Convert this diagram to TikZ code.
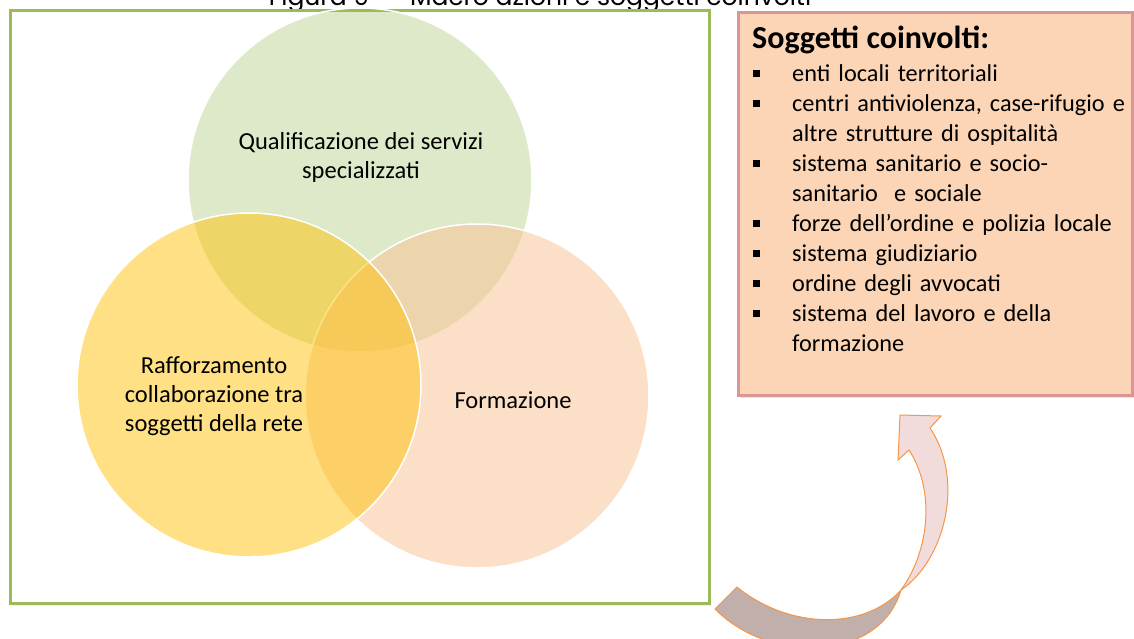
\documentclass[tikz,border=0pt]{standalone}
\usepackage{fontspec}
\setmainfont{Carlito}
\newfontfamily\captionfont{Poppins}
\usetikzlibrary{shadows}

\definecolor{frameGreen}{HTML}{9BBB59}
\definecolor{boxFill}{HTML}{FBD5B5}
\definecolor{boxLine}{HTML}{D99694}
\definecolor{arrowLine}{HTML}{F79646}
\definecolor{arrowBack}{HTML}{C1AFAC}
\definecolor{arrowFront}{HTML}{F2DCDB}

\newcommand{\voce}[1]{\hangindent=40pt\hangafter=1\noindent\makebox[40pt][l]{\hspace{1pt}\rule[4pt]{7pt}{7pt}}#1\par}

\begin{document}
\begin{tikzpicture}[x=1pt,y=-1pt,
  venn/.style={circle, minimum size=344pt, inner sep=0pt, draw=white, line width=1.5pt},
  venntext/.style={font=\fontsize{24.5}{29}\selectfont, align=center, anchor=base, inner sep=0pt},
  listtext/.style={font=\fontsize{24.3}{30}\selectfont, anchor=base west, inner sep=0pt, text width=385pt}]
\useasboundingbox (0,0) rectangle (1134,638);

% caption, cut at the top
\node[font=\captionfont\fontsize{25}{29}\selectfont, anchor=base, inner sep=0pt] (caption) at (540,5) {Figura 9 -- Macro azioni e soggetti coinvolti};

% frame and venn diagram
\draw[frameGreen, line width=3pt, fill=white, drop shadow={opacity=0.12, shadow xshift=1pt, shadow yshift=-2pt}] (10.5,10.5) rectangle (709.5,603.5);
\node[venn, fill=frameGreen, fill opacity=0.32] (qual) at (360,180) {};
\node[venn, fill={rgb,255:red,250;green,192;blue,144}, fill opacity=0.5] (form) at (477,396) {};
\node[venn, fill={rgb,255:red,255;green,192;blue,0}, fill opacity=0.48] (raff) at (249,385) {};

% base anchor = last line
\node[venntext] (qualtxt) at (361,178) {Qualificazione dei servizi\\specializzati};
\node[venntext] (formtxt) at (513,408) {Formazione};
\node[venntext] (rafftxt) at (214,431) {Rafforzamento\\collaborazione tra\\soggetti della rete};

% box of subjects
\draw[boxLine, line width=3pt, fill=boxFill, drop shadow={opacity=0.2, shadow xshift=2pt, shadow yshift=-3pt}] (738.5,12.5) rectangle (1132.5,395);
\node[font=\bfseries\fontsize{32}{36}\selectfont, anchor=base west, inner sep=0pt] (soggetti) at (752,48) {Soggetti coinvolti:};
\node[listtext] (items) at (752,81) {\raggedright
\voce{enti locali territoriali}
\voce{centri antiviolenza, case-rifugio e\newline altre strutture di ospitalità}
\voce{sistema sanitario e socio-\newline sanitario\ \ e sociale}
\voce{forze dell’ordine e polizia locale}
\voce{sistema giudiziario}
\voce{ordine degli avvocati}
\voce{sistema del lavoro e della\newline formazione}};

% curved arrow
\coordinate (twist) at (901,590);
\draw[arrowLine, line width=1pt, fill=arrowBack] (715,609) -- (737,587)
  .. controls (790,630) and (865,630) .. (twist)
  .. controls (880,662) and (770,665) .. (715,609) -- cycle;
\draw[arrowLine, line width=1pt, fill=arrowFront] (twist)
  .. controls (945,560) and (965,480) .. (930,428)
  -- (941,416) -- (900,415) -- (898,460) -- (909,450)
  .. controls (935,490) and (930,550) .. (twist) -- cycle;
\end{tikzpicture}
\end{document}
